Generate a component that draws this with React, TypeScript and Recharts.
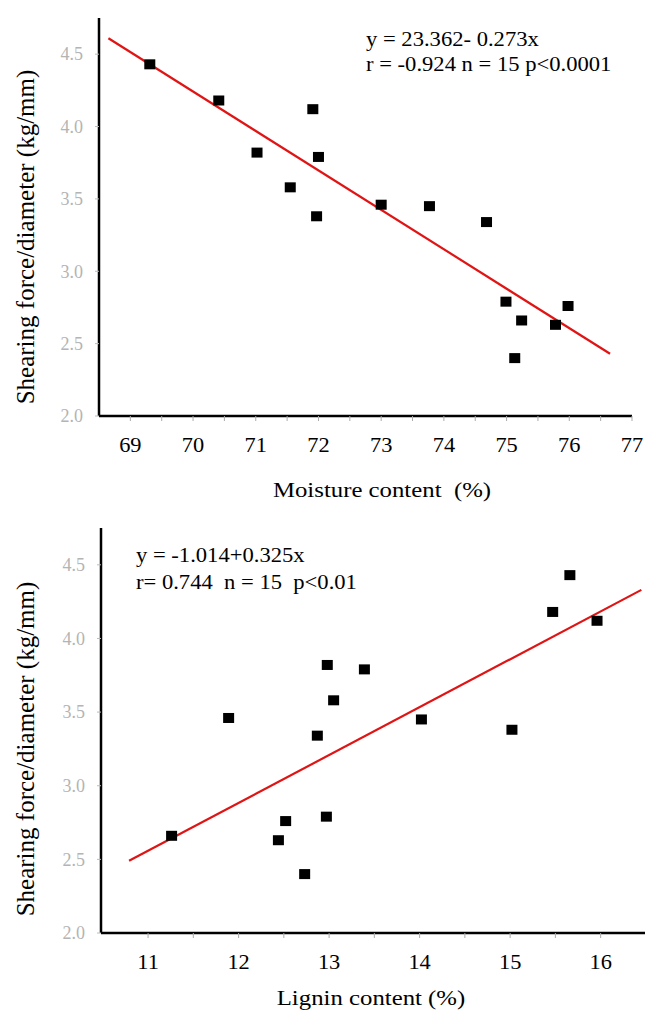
import { ScatterChart, Scatter, XAxis, YAxis, ReferenceLine } from "recharts";

// one shearing value per sample, shared by both plots
const shear = [4.43, 4.18, 3.82, 3.58, 4.12, 3.79, 3.38, 3.46, 3.45, 3.34, 2.79, 2.4, 2.66, 2.63, 2.76];
const moisture = [69.31, 70.41, 71.02, 71.55, 71.91, 72.0, 71.97, 73.0, 73.77, 74.68, 74.99, 75.13, 75.24, 75.78, 75.98];
const lignin = [15.66, 15.47, 12.98, 13.05, 15.96, 13.39, 15.02, 11.89, 14.02, 12.87, 12.97, 12.73, 11.26, 12.44, 12.52];

const moistureTicks = [69, 69.5, 70, 70.5, 71, 71.5, 72, 72.5, 73, 73.5, 74, 74.5, 75, 75.5, 76, 76.5, 77];
const ligninTicks = [11, 11.5, 12, 12.5, 13, 13.5, 14, 14.5, 15, 15.5, 16];
const shearTicks = [2.0, 2.5, 3.0, 3.5, 4.0, 4.5];

// fitted lines, end points
const fitMoisture = [{ x: 68.65, y: 4.61 }, { x: 76.65, y: 2.43 }];
const fitLignin = [{ x: 10.79, y: 2.49 }, { x: 16.45, y: 4.33 }];

const topData = moisture.map((m, i) => ({ x: m, y: shear[i] }));
const bottomData = lignin.map((l, i) => ({ x: l, y: shear[i] }));

const SERIF = '"Liberation Serif", "Times New Roman", serif';

const Square = (props: any) => {
  const { cx, cy } = props;
  return <rect x={cx - 5.5} y={cy - 5} width={11} height={10} fill="#000" />;
};

const XTick = (props: any) => {
  const { x, y, payload } = props;
  if (!Number.isInteger(payload.value)) return null;
  return (
    <text
      transform={`translate(${x},${y}) scale(1.12,1)`}
      textAnchor="middle"
      dy="0.71em"
      fontSize={20}
      fontFamily={SERIF}
      fill="#000"
    >
      {payload.value}
    </text>
  );
};

const YTick = (props: any) => {
  const { x, y, payload } = props;
  return (
    <text x={x} y={y} dy="0.35em" textAnchor="end" fontSize={18} fontFamily={SERIF} fill="#b4b4b4">
      {payload.value.toFixed(1)}
    </text>
  );
};

const abs = (left: number, top: number, extra: any = {}) => ({
  position: "absolute" as const,
  left,
  top,
  fontFamily: SERIF,
  color: "#000",
  whiteSpace: "nowrap" as const,
  ...extra,
});

function Panel(props: {
  data: { x: number; y: number }[];
  fit: { x: number; y: number }[];
  xDomain: [number, number];
  xTicks: number[];
  yAxisWidth: number;
  height: number;
  marginTop: number;
  marginRight: number;
  xAxisHeight: number;
}) {
  return (
    <ScatterChart
      width={648}
      height={props.height}
      margin={{ top: props.marginTop, right: props.marginRight, bottom: 0, left: 0 }}
    >
      <XAxis
        type="number"
        dataKey="x"
        domain={props.xDomain}
        ticks={props.xTicks}
        allowDataOverflow
        height={props.xAxisHeight}
        axisLine={{ stroke: "#000", strokeWidth: 2.5 }}
        tickLine={{ stroke: "#aaa" }}
        tickSize={5}
        tickMargin={17}
        tick={<XTick />}
        interval={0}
      />
      <YAxis
        type="number"
        dataKey="y"
        domain={[2.0, 4.75]}
        ticks={shearTicks}
        allowDataOverflow
        width={props.yAxisWidth}
        axisLine={{ stroke: "#000", strokeWidth: 2.5 }}
        tickLine={{ stroke: "#bbb" }}
        tickSize={4}
        tickMargin={12}
        tick={<YTick />}
        interval={0}
      />
      <ReferenceLine
        segment={props.fit}
        stroke="#e01414"
        strokeWidth={2.2}
        ifOverflow="visible"
      />
      <Scatter data={props.data} shape={<Square />} isAnimationActive={false} />
    </ScatterChart>
  );
}

export default function App() {
  return (
    <div style={{ position: "absolute", left: 0, top: 0, width: 648, height: 1010, background: "#fff" }}>
      <div style={{ position: "absolute", left: 0, top: 0 }}>
        <Panel
          data={topData}
          fit={fitMoisture}
          xDomain={[68.5, 77]}
          xTicks={moistureTicks}
          yAxisWidth={99}
          height={500}
          marginTop={18}
          marginRight={16}
          xAxisHeight={84}
        />
      </div>
      <div style={{ position: "absolute", left: 0, top: 500 }}>
        <Panel
          data={bottomData}
          fit={fitLignin}
          xDomain={[10.48, 16.49]}
          xTicks={ligninTicks}
          yAxisWidth={101}
          height={510}
          marginTop={28}
          marginRight={3}
          xAxisHeight={77}
        />
      </div>

      {/* axis titles */}
      <div style={abs(26, 237, { fontSize: 25, transform: "translate(-50%,-50%) rotate(-90deg)" })}>
        Shearing force/diameter (kg/mm)
      </div>
      <div style={abs(382, 490, { fontSize: 21, transform: "translate(-50%,-50%) scaleX(1.18)" })}>
        Moisture content&nbsp; (%)
      </div>
      <div style={abs(26, 749, { fontSize: 25, transform: "translate(-50%,-50%) rotate(-90deg)" })}>
        Shearing force/diameter (kg/mm)
      </div>
      <div style={abs(371, 998, { fontSize: 21, transform: "translate(-50%,-50%) scaleX(1.18)" })}>
        Lignin content (%)
      </div>

      {/* regression notes */}
      <div style={abs(366, 27, { fontSize: 20, lineHeight: "25px", transform: "scaleX(1.13)", transformOrigin: "left top" })}>
        <div>y = 23.362- 0.273x</div>
        <div>r = -0.924 n = 15 p&lt;0.0001</div>
      </div>
      <div style={abs(136, 542, { fontSize: 20, lineHeight: "27px", transform: "scaleX(1.13)", transformOrigin: "left top" })}>
        <div>y = -1.014+0.325x</div>
        <div>r= 0.744&nbsp; n = 15&nbsp; p&lt;0.01</div>
      </div>
    </div>
  );
}
